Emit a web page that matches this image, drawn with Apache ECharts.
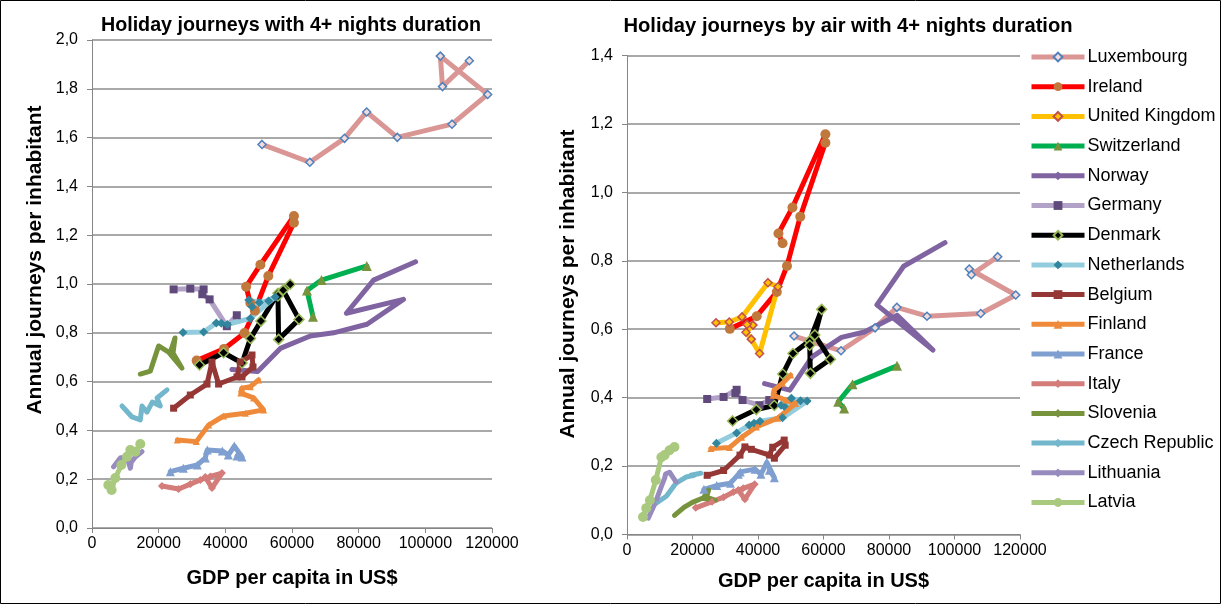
<!DOCTYPE html>
<html><head><meta charset="utf-8">
<script src="https://cdn.jsdelivr.net/npm/echarts@6/dist/echarts.min.js"></script>
<style>html,body{margin:0;padding:0;background:#fff}#c{width:1221px;height:604px}</style>
</head><body><div id="c"></div>
<script>
// ---- data (GDP per capita, journeys per inhabitant: all / by air) ----
const countries = ['Luxembourg','Ireland','United Kingdom','Switzerland','Norway','Germany','Denmark','Netherlands','Belgium','Finland','France','Italy','Slovenia','Czech Republic','Lithuania','Latvia'];

const gdpLuxembourg = [51000, 65350, 75750, 82400, 91590, 108000, 118700, 104500, 105150, 113200];
const allLuxembourg = [1.572, 1.499, 1.597, 1.705, 1.601, 1.655, 1.777, 1.934, 1.809, 1.915];
const airLuxembourg = [0.580, 0.537, 0.604, 0.664, 0.638, 0.646, 0.700, 0.776, 0.759, 0.812];

const gdpIreland = [31400, 39600, 45750, 48850, 52900, 60580, 60580, 50520, 46240, 47500];
const allIreland = [0.686, 0.734, 0.799, 0.891, 1.033, 1.251, 1.279, 1.079, 0.989, 0.922];
const airIreland = [0.601, 0.638, 0.709, 0.785, 0.929, 1.145, 1.170, 0.956, 0.880, 0.851];

const gdpUK = [27170, 31230, 35110, 43050, 46100, 40480, 37950, 36330, 38470, 36640];
const allUK = null;
const airUK = [0.619, 0.621, 0.636, 0.736, 0.724, 0.529, 0.571, 0.591, 0.612, 0.614];

const gdpSwitzerland = [66300, 64500, 68850, 82450];
const allSwitzerland = [0.866, 0.973, 1.016, 1.074];
const airSwitzerland = [0.368, 0.388, 0.439, 0.493];

const gdpNorway = [42000, 49700, 56490, 65490, 72480, 82500, 93430, 76300, 84470, 97080];
const allNorway = [0.650, 0.641, 0.736, 0.787, 0.800, 0.835, 0.937, 0.880, 1.016, 1.091];
const airNorway = [0.441, 0.422, 0.519, 0.576, 0.592, 0.641, 0.539, 0.671, 0.784, 0.853];

const gdpGermany = [24480, 29490, 33480, 33090, 35280, 40440, 43440];
const allGermany = [0.978, 0.981, 0.978, 0.958, 0.937, 0.827, 0.872];
const airGermany = [0.396, 0.402, 0.423, 0.413, 0.393, 0.378, 0.393];

const gdpDenmark = [32250, 39480, 45000, 47550, 50680, 55780, 59450, 57350, 62100, 55980, 55800];
const allDenmark = [0.668, 0.718, 0.676, 0.777, 0.848, 0.962, 0.999, 0.975, 0.855, 0.773, 0.951];
const airDenmark = [0.332, 0.365, 0.377, 0.469, 0.529, 0.566, 0.658, 0.583, 0.512, 0.471, 0.553];

const gdpNetherlands = [27300, 33480, 37290, 38790, 40590, 47490, 55000, 48000, 47040, 50190, 52980];
const allNetherlands = [0.801, 0.803, 0.840, 0.839, 0.834, 0.859, 0.947, 0.907, 0.934, 0.924, 0.930];
const airNetherlands = [0.267, 0.297, 0.320, 0.325, 0.331, 0.341, 0.390, 0.375, 0.378, 0.398, 0.391];

const gdpBelgium = [24480, 29490, 34500, 36000, 37980, 43500, 44490, 48000, 48300, 45000];
const allBelgium = [0.491, 0.545, 0.590, 0.680, 0.590, 0.619, 0.680, 0.709, 0.660, 0.619];
const airBelgium = [0.173, 0.187, 0.232, 0.256, 0.249, 0.232, 0.255, 0.276, 0.261, 0.223];

const gdpFinland = [25590, 31290, 34980, 39480, 45990, 51480, 48480, 44640, 44900, 47490, 49980];
const allFinland = [0.361, 0.354, 0.422, 0.459, 0.470, 0.484, 0.533, 0.553, 0.573, 0.579, 0.607];
const airFinland = [0.251, 0.254, 0.284, 0.314, 0.340, 0.383, 0.393, 0.407, 0.422, 0.442, 0.466];

const gdpFrance = [23490, 27390, 31590, 33990, 34590, 39090, 40890, 42690, 45000, 43500];
const allFrance = [0.231, 0.245, 0.258, 0.287, 0.320, 0.316, 0.299, 0.336, 0.291, 0.295];
const airFrance = [0.132, 0.143, 0.150, 0.176, 0.183, 0.191, 0.176, 0.211, 0.166, 0.188];

const gdpItaly = [20990, 25980, 29490, 32490, 35490, 38990, 35990, 33990];
const allItaly = [0.172, 0.160, 0.180, 0.197, 0.211, 0.225, 0.164, 0.209];
const airItaly = [0.078, 0.096, 0.109, 0.124, 0.135, 0.147, 0.103, 0.130];

const gdpSlovenia = [14490, 17490, 19980, 22980, 27000, 24300, 24900, 23490];
const allSlovenia = [0.631, 0.643, 0.746, 0.721, 0.655, 0.717, 0.779, 0.719];
const airSlovenia = [0.056, 0.080, 0.094, 0.106, 0.100, 0.109, 0.130, 0.109];

const gdpCzech = [9000, 12000, 14490, 15000, 16500, 18090, 20490, 19500, 22500];
const allCzech = [0.500, 0.455, 0.443, 0.500, 0.475, 0.516, 0.500, 0.533, 0.566];
const airCzech = [0.092, 0.112, 0.144, 0.150, 0.159, 0.168, 0.173, 0.173, 0.179];

const gdpLithuania = [6480, 8490, 10500, 11490, 11790, 12990, 15000];
const allLithuania = [0.251, 0.287, 0.292, 0.245, 0.270, 0.291, 0.313];
const airLithuania = [0.048, 0.089, 0.141, 0.165, 0.177, 0.182, 0.153];

const gdpLatvia = [4890, 5880, 6990, 8790, 10500, 11490, 12990, 14490];
const allLatvia = [0.176, 0.156, 0.205, 0.258, 0.292, 0.320, 0.313, 0.344];
const airLatvia = [0.051, 0.077, 0.100, 0.159, 0.226, 0.232, 0.246, 0.256];

const xTicks = [0, 20000, 40000, 60000, 80000, 100000, 120000];

// ---- styles ----
const styles = {
  'Luxembourg':     {line:'#D99694', sym:'diamond',  size:8, fill:'#F2DCDB', border:'#4F81BD', bw:1.5},
  'Ireland':        {line:'#FF0000', sym:'circle',   size:10, fill:'#C0783C', border:'#C0783C', bw:0},
  'United Kingdom': {line:'#FFC000', sym:'diamond',  size:8, fill:'#FFC000', border:'#C0504D', bw:1.5},
  'Switzerland':    {line:'#00B050', sym:'triangle', size:10, fill:'#77933C', border:'#77933C', bw:0},
  'Norway':         {line:'#8064A2', sym:'diamond',  size:5, fill:'#8064A2', border:'#8064A2', bw:0},
  'Germany':        {line:'#B3A2C7', sym:'rect',     size:8, fill:'#604A7B', border:'#604A7B', bw:0},
  'Denmark':        {line:'#000000', sym:'diamond',  size:10, fill:'#000000', border:'#9BBB59', bw:1.5},
  'Netherlands':    {line:'#93CDDD', sym:'diamond',  size:9, fill:'#31859C', border:'#31859C', bw:0},
  'Belgium':        {line:'#953735', sym:'rect',     size:7, fill:'#953735', border:'#953735', bw:0},
  'Finland':        {line:'#EE8A3A', sym:'triangle', size:7, fill:'#EE8A3A', border:'#EE8A3A', bw:0},
  'France':         {line:'#7F9FD0', sym:'triangle', size:9, fill:'#7F9FD0', border:'#7F9FD0', bw:0},
  'Italy':          {line:'#D37C7A', sym:'diamond',  size:8, fill:'#D37C7A', border:'#D37C7A', bw:0},
  'Slovenia':       {line:'#77933C', sym:'diamond',  size:4, fill:'#77933C', border:'#77933C', bw:0},
  'Czech Republic': {line:'#72B7CC', sym:'diamond',  size:4, fill:'#72B7CC', border:'#72B7CC', bw:0},
  'Lithuania':      {line:'#988CBF', sym:'diamond',  size:5, fill:'#988CBF', border:'#988CBF', bw:0},
  'Latvia':         {line:'#A9C97E', sym:'circle',   size:10, fill:'#A9C97E', border:'#A9C97E', bw:0}
};

const table = {
  'Luxembourg':[gdpLuxembourg, allLuxembourg, airLuxembourg],
  'Ireland':[gdpIreland, allIreland, airIreland],
  'United Kingdom':[gdpUK, allUK, airUK],
  'Switzerland':[gdpSwitzerland, allSwitzerland, airSwitzerland],
  'Norway':[gdpNorway, allNorway, airNorway],
  'Germany':[gdpGermany, allGermany, airGermany],
  'Denmark':[gdpDenmark, allDenmark, airDenmark],
  'Netherlands':[gdpNetherlands, allNetherlands, airNetherlands],
  'Belgium':[gdpBelgium, allBelgium, airBelgium],
  'Finland':[gdpFinland, allFinland, airFinland],
  'France':[gdpFrance, allFrance, airFrance],
  'Italy':[gdpItaly, allItaly, airItaly],
  'Slovenia':[gdpSlovenia, allSlovenia, airSlovenia],
  'Czech Republic':[gdpCzech, allCzech, airCzech],
  'Lithuania':[gdpLithuania, allLithuania, airLithuania],
  'Latvia':[gdpLatvia, allLatvia, airLatvia]
};

const FONT = 'Liberation Sans, Arial, sans-serif';
const Y_NAME = 'Annual journeys per inhabitant';
const series = [];
countries.forEach(name => {
  const [gdp, all, air] = table[name];
  const s = styles[name];
  [[all, 0], [air, 1]].forEach(([ys, idx]) => {
    if (!ys) return;
    series.push({
      name, type:'line', xAxisIndex: idx, yAxisIndex: idx,
      data: gdp.map((g, i) => [g, ys[i]]),
      symbol: s.sym, symbolSize: s.size, showAllSymbol: true,
      lineStyle: {color: s.line, width: 5, join:'round', cap:'round'},
      itemStyle: {color: s.fill, borderColor: s.border, borderWidth: s.bw},
      emphasis: {disabled: true}, animation: false
    });
  });
});

const axisCommon = {
  axisLine: {show:true, lineStyle:{color:'#868686', width:1}},
  axisTick: {show:true, inside:false, length:5, lineStyle:{color:'#868686'}},
  axisLabel: {color:'#000', fontFamily: FONT, fontSize: 16},
  nameTextStyle: {color:'#000', fontFamily: FONT, fontSize: 20, fontWeight:'bold'}
};
function xAx(idx, gap) {
  return Object.assign({}, axisCommon, {
    type:'value', gridIndex: idx, min: xTicks[0], max: xTicks[xTicks.length-1], interval: 20000,
    splitLine:{show:false}, name:'GDP per capita in US$', nameLocation:'middle', nameGap: gap,
    axisLabel: Object.assign({}, axisCommon.axisLabel, {margin: 8, formatter: v => String(v)})
  });
}
function yAx(idx, max) {
  return Object.assign({}, axisCommon, {
    type:'value', gridIndex: idx, min: 0, max: max, interval: 0.2,
    splitLine:{show:true, lineStyle:{color:'#8C8C8C', width:1.5}},
    axisLabel: Object.assign({}, axisCommon.axisLabel, {margin: 14, formatter: v => v.toFixed(1).replace('.', ',')})
  });
}
function yName(x, y) {
  return {type:'text', x, y, rotation: Math.PI/2, silent:true,
    style:{text: Y_NAME, fontFamily: FONT, fontSize: 21, fontWeight:'bold', fill:'#000', align:'center', verticalAlign:'middle'}};
}

const chart = echarts.init(document.getElementById('c'), null, {renderer:'canvas'});
chart.setOption({
  animation: false,
  backgroundColor: '#fff',
  title: [
    {text:'Holiday journeys with 4+ nights duration', left: 286, top: 11, textAlign:'center',
     textStyle:{fontFamily: FONT, fontSize:19.7, fontWeight:'bold', color:'#000'}},
    {text:'Holiday journeys by air with 4+ nights duration', left: 843, top: 11, textAlign:'center',
     textStyle:{fontFamily: FONT, fontSize:20.2, fontWeight:'bold', color:'#000'}}
  ],
  grid: [
    {left: 92, top: 40, width: 400, height: 488},
    {left: 627, top: 55.5, width: 393, height: 479}
  ],
  xAxis: [xAx(0, 40), xAx(1, 37)],
  yAxis: [yAx(0, 2.0), yAx(1, 1.4)],
  legend: {
    orient:'vertical', left: 1029, top: 48, padding: 0, itemWidth: 53, itemHeight: 11, itemGap: 11.7,
    data: countries, selectedMode: false,
    lineStyle: {width: 5, cap: 'butt'},
    textStyle:{fontFamily: FONT, fontSize: 18, color:'#000', padding:[0,0,0,-2]}
  },
  graphic: [
    yName(35, 260),
    yName(568, 284),
    {type:'rect', shape:{x:0.5, y:0.5, width:1220, height:603}, style:{fill:'none', stroke:'#000', lineWidth:1}, silent:true}
  ],
  series
});
</script></body></html>
